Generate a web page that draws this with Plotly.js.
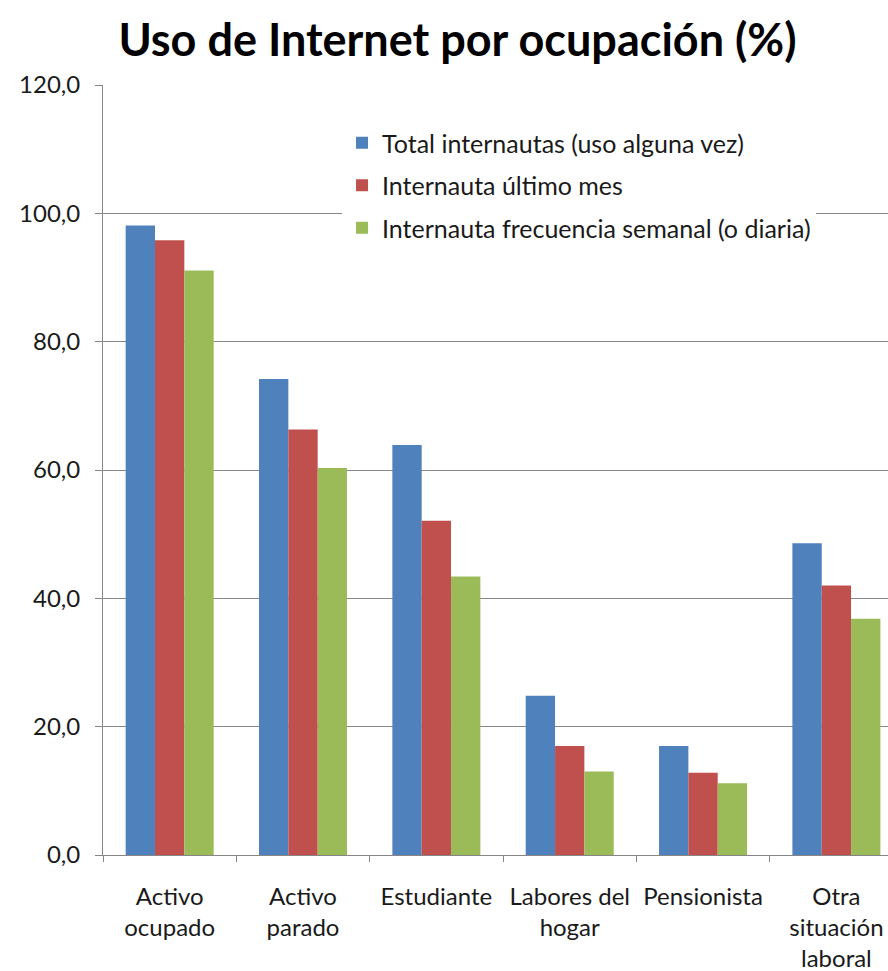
<!DOCTYPE html>
<html>
<head>
<meta charset="utf-8">
<script src="https://cdn.plot.ly/plotly-3.0.1.min.js"></script>
<style>html,body{margin:0;padding:0;background:#fff;}</style>
</head>
<body>
<div id="chart" style="width:888px;height:971px;"></div>
<script>
const categories = ["Activo<br>ocupado", "Activo<br>parado", "Estudiante", "Labores del<br>hogar", "Pensionista", "Otra<br>situación<br>laboral"];
const seriesNames = ["Total internautas (uso alguna vez)", "Internauta último mes", "Internauta frecuencia semanal (o diaria)"];
const totalInternautas = [98.1, 74.2, 63.9, 24.8, 17.0, 48.6];
const ultimoMes = [95.8, 66.3, 52.1, 17.0, 12.8, 42.0];
const frecuenciaSemanal = [91.1, 60.3, 43.4, 13.0, 11.2, 36.8];
const yTicks = [0, 20, 40, 60, 80, 100, 120];
const colors = ["#4F81BD", "#C0504D", "#9BBB59"];

const FONT = "Lato, 'Open Sans', sans-serif";
const values = [totalInternautas, ultimoMes, frecuenciaSemanal];
const traces = values.map((v, i) => ({
  type: "bar",
  name: seriesNames[i],
  x: categories,
  y: v,
  marker: {color: colors[i]},
  legendgroup: "g" + i,
  hoverinfo: "skip"
}));

const layout = {
  width: 888,
  height: 971,
  margin: {l: 103, r: 0, t: 85, b: 116, pad: 0},
  paper_bgcolor: "#ffffff",
  plot_bgcolor: "#ffffff",
  font: {family: FONT, size: 24, color: "#1a1a1a"},
  title: {
    text: "<b>Uso de Internet por ocupación (%)</b>",
    font: {family: FONT, size: 45, color: "#000000"},
    xref: "container", yref: "container",
    x: 457.5 / 888, xanchor: "center",
    y: 1 - 40 / 971, yanchor: "middle"
  },
  barmode: "group",
  bargap: 0.34,
  bargroupgap: 0,
  showlegend: true,
  legend: {
    x: 0.3045, xanchor: "left",
    y: 1 - (120 - 85) / 770, yanchor: "top",
    bgcolor: "#ffffff",
    font: {family: FONT, size: 25, color: "#1a1a1a"},
    traceorder: "grouped",
    tracegroupgap: 7,
    itemclick: false
  },
  xaxis: {
    type: "category",
    range: [-0.5, 5.387],
    showline: true,
    linecolor: "#868686",
    linewidth: 1,
    ticks: "outside",
    tickson: "boundaries",
    ticklen: 6,
    tickcolor: "#868686",
    showgrid: false,
    tickfont: {family: FONT, size: 24, color: "#1a1a1a"},
    ticklabelstandoff: 20,
    fixedrange: true
  },
  yaxis: {
    range: [0, 120],
    tickvals: yTicks,
    tickformat: ".1f",
    showline: true,
    linecolor: "#868686",
    linewidth: 1,
    ticks: "outside",
    ticklen: 7,
    tickcolor: "#868686",
    showgrid: true,
    gridcolor: "#868686",
    gridwidth: 1,
    zeroline: false,
    tickfont: {family: FONT, size: 24, color: "#1a1a1a"},
    ticklabelstandoff: 10,
    fixedrange: true
  },
  separators: ",."
};

Plotly.newPlot("chart", traces, layout, {displayModeBar: false, staticPlot: true});
</script>
</body>
</html>
